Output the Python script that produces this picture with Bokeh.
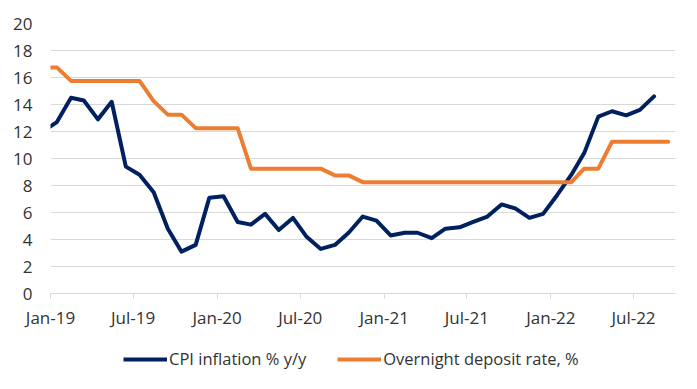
from datetime import datetime
import numpy as np
import pandas as pd
from bokeh.plotting import figure
from bokeh.layouts import column
from bokeh.models import Range1d, FixedTicker, Legend, LegendItem
from bokeh.embed import file_html
from bokeh.resources import INLINE

# Monthly observations, Dec-18 .. Sep-22 (plotted mid-month)
months = ["Dec-18",
          "Jan-19", "Feb-19", "Mar-19", "Apr-19", "May-19", "Jun-19", "Jul-19", "Aug-19", "Sep-19", "Oct-19", "Nov-19", "Dec-19",
          "Jan-20", "Feb-20", "Mar-20", "Apr-20", "May-20", "Jun-20", "Jul-20", "Aug-20", "Sep-20", "Oct-20", "Nov-20", "Dec-20",
          "Jan-21", "Feb-21", "Mar-21", "Apr-21", "May-21", "Jun-21", "Jul-21", "Aug-21", "Sep-21", "Oct-21", "Nov-21", "Dec-21",
          "Jan-22", "Feb-22", "Mar-22", "Apr-22", "May-22", "Jun-22", "Jul-22", "Aug-22", "Sep-22"]

cpi = [12.0,
       12.7, 14.5, 14.3, 12.9, 14.2, 9.4, 8.8, 7.5, 4.8, 3.1, 3.6, 7.1,
       7.2, 5.3, 5.1, 5.9, 4.7, 5.6, 4.2, 3.3, 3.6, 4.5, 5.7, 5.4,
       4.3, 4.5, 4.5, 4.1, 4.8, 4.9, 5.3, 5.7, 6.6, 6.3, 5.6, 5.9,
       7.3, 8.8, 10.4, 13.1, 13.5, 13.2, 13.6, 14.6, None]

deposit = [16.75,
           16.75, 15.75, 15.75, 15.75, 15.75, 15.75, 15.75, 14.25, 13.25, 13.25, 12.25, 12.25,
           12.25, 12.25, 9.25, 9.25, 9.25, 9.25, 9.25, 9.25, 8.75, 8.75, 8.25, 8.25,
           8.25, 8.25, 8.25, 8.25, 8.25, 8.25, 8.25, 8.25, 8.25, 8.25, 8.25, 8.25,
           8.25, 8.25, 9.25, 9.25, 11.25, 11.25, 11.25, 11.25, 11.25]

series_names = ["CPI inflation % y/y", "Overnight deposit rate, %"]
x_tick_labels = ["Jan-19", "Jul-19", "Jan-20", "Jul-20", "Jan-21", "Jul-21", "Jan-22", "Jul-22"]
y_ticks = [0, 2, 4, 6, 8, 10, 12, 14, 16, 18, 20]

dates = [pd.to_datetime(m, format="%b-%y") + pd.Timedelta(days=14) for m in months]
tick_dates = [pd.to_datetime(t, format="%b-%y") for t in x_tick_labels]
tick_ms = [t.value / 1e6 for t in tick_dates]

cpi_x = [d for d, v in zip(dates, cpi) if v is not None]
cpi_y = [v for v in cpi if v is not None]

FONT = "Open Sans"
TXT = "#333333"
GRID = "#d9d9d9"
NAVY = "#002060"
ORANGE = "#ED7D31"

p = figure(width=689, height=335, x_axis_type="datetime",
           output_backend="svg", toolbar_location=None,
           x_range=Range1d(datetime(2019, 1, 1), datetime(2022, 10, 1)),
           y_range=Range1d(0, 20),
           min_border_left=50, min_border_right=14, min_border_top=23, min_border_bottom=42)
p.outline_line_color = None
p.background_fill_color = "white"

p.line(cpi_x, cpi_y, line_color=NAVY, line_width=4, line_join="round", line_cap="round")
p.line(dates, deposit, line_color=ORANGE, line_width=4, line_join="round", line_cap="round")

p.xgrid.visible = False
p.ygrid.grid_line_color = GRID
p.ygrid.grid_line_width = 1
p.ygrid.ticker = FixedTicker(ticks=y_ticks)

yax = p.yaxis[0]
yax.ticker = FixedTicker(ticks=y_ticks)
yax.axis_line_color = None
yax.major_tick_line_color = None
yax.minor_tick_line_color = None
yax.major_label_standoff = 12
yax.major_label_text_font = FONT
yax.major_label_text_font_size = "17px"
yax.major_label_text_color = TXT

xax = p.xaxis[0]
xax.ticker = FixedTicker(ticks=tick_ms)
xax.major_label_overrides = {ms: lab for ms, lab in zip(tick_ms, x_tick_labels)}
xax.axis_line_color = GRID
xax.axis_line_width = 1
xax.major_tick_line_color = GRID
xax.major_tick_in = 0
xax.major_tick_out = 5
xax.minor_tick_line_color = None
xax.major_label_standoff = 7
xax.major_label_text_font = FONT
xax.major_label_text_font_size = "17px"
xax.major_label_text_color = TXT

# Legend strip below the chart (proxy renderers hold no visible data)
lg = figure(width=689, height=46, output_backend="svg", toolbar_location=None,
            x_range=Range1d(0, 1), y_range=Range1d(0, 1),
            min_border=0, x_axis_location=None, y_axis_location=None)
lg.outline_line_color = None
lg.xgrid.visible = False
lg.ygrid.visible = False
k1 = lg.line(np.array([np.nan]), np.array([np.nan]), line_color=NAVY, line_width=4)
k2 = lg.line(np.array([np.nan]), np.array([np.nan]), line_color=ORANGE, line_width=4)

legend = Legend(items=[LegendItem(label=series_names[0], renderers=[k1]),
                       LegendItem(label=series_names[1], renderers=[k2])],
                orientation="horizontal", location=(73, 11),
                label_text_font=FONT, label_text_font_size="16.5px", label_text_color=TXT,
                glyph_width=44, glyph_height=20, label_standoff=2, spacing=31,
                padding=0, margin=0, border_line_color=None, background_fill_alpha=0)
lg.add_layout(legend, "center")

layout = column(p, lg, spacing=0)
open("out.html", "w").write(file_html(layout, INLINE))
